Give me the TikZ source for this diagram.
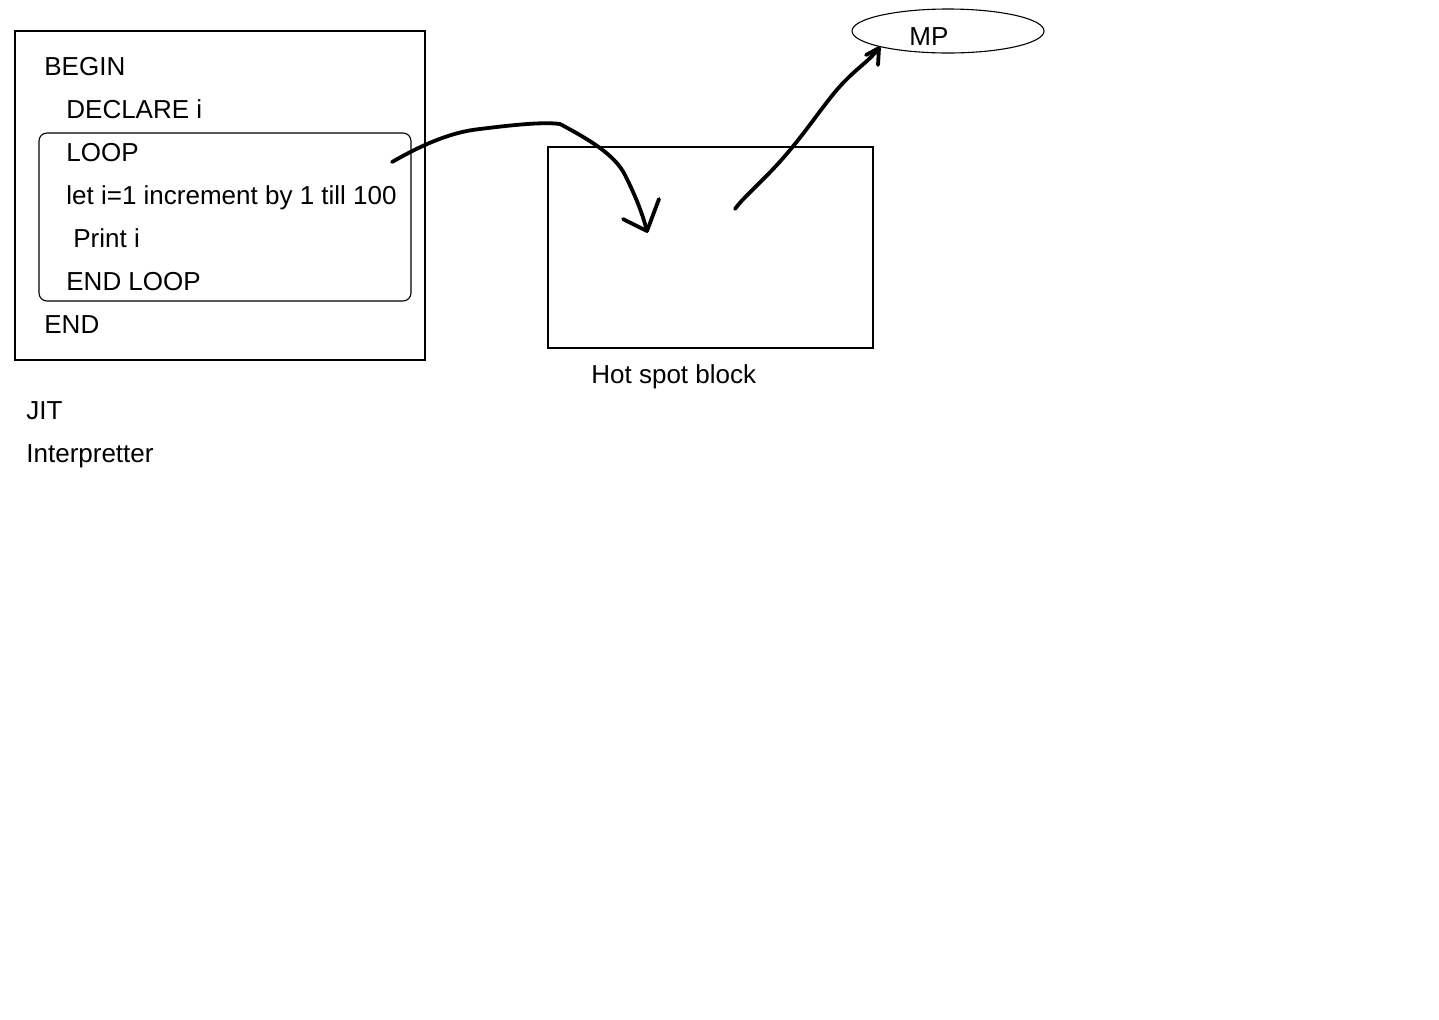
\documentclass[tikz,border=0pt]{standalone}
\usepackage{fontspec}
\setmainfont{Liberation Sans}
\usetikzlibrary{shapes.geometric}
\begin{document}
\begin{tikzpicture}[x=0.5pt,y=-0.5pt,
  lbl/.style={anchor=base west,inner sep=0pt,font=\fontsize{13}{15}\selectfont},
  thinbox/.style={draw,line width=0.55pt},
  hand/.style={line width=1.9pt,line cap=round,line join=round}]
\useasboundingbox[fill=white] (0,0) rectangle (1439,1019);
% outer program box
\draw[thinbox] (15,31) rectangle (425,360);
\draw[thinbox,rounded corners=4] (39,133) rectangle (411,301);
\node[lbl] (begin) at (44,75) {BEGIN};
\node[lbl] (declare) at (66,118) {DECLARE i};
\node[lbl] (loop) at (66,161) {LOOP};
\node[lbl] (let) at (66,204) {let i=1 increment by 1 till 100};
\node[lbl] (print) at (73,247) {Print i};
\node[lbl] (endloop) at (66,290) {END LOOP};
\node[lbl] (end) at (44,333) {END};
\node[lbl] (jit) at (26,419) {JIT};
\node[lbl] (interp) at (26,462) {Interpretter};
% hot spot block
\draw[thinbox] (548,147) rectangle (873,348);
\node[lbl] (hot) at (591,383) {Hot spot block};
% MP ellipse
\node[draw,ellipse,line width=0.55pt,minimum width=96pt,minimum height=22pt,inner sep=0pt] (mp) at (948,31) {};
\node[lbl] (mptext) at (909,45) {MP};
% arrow 1
\coordinate (a1s) at (392,162);
\coordinate (a1e) at (647,231);
\draw[hand] (a1s) .. controls (420,146) and (450,132) .. (480,129)
  .. controls (520,124) and (545,122) .. (560,124)
  .. controls (590,140) and (615,155) .. (625,175)
  .. controls (635,195) and (642,212) .. (a1e);
\draw[hand] (623,219) -- (a1e) -- (659,199);
% arrow 2
\coordinate (a2s) at (735,209);
\coordinate (a2e) at (879,48);
\draw[hand] (a2s) .. controls (745,195) and (765,180) .. (790,150)
  .. controls (815,120) and (830,95) .. (848,78)
  .. controls (860,66) and (870,60) .. (a2e);
\draw[hand] (866,55) -- (a2e) -- (878,65);
\end{tikzpicture}
\end{document}
